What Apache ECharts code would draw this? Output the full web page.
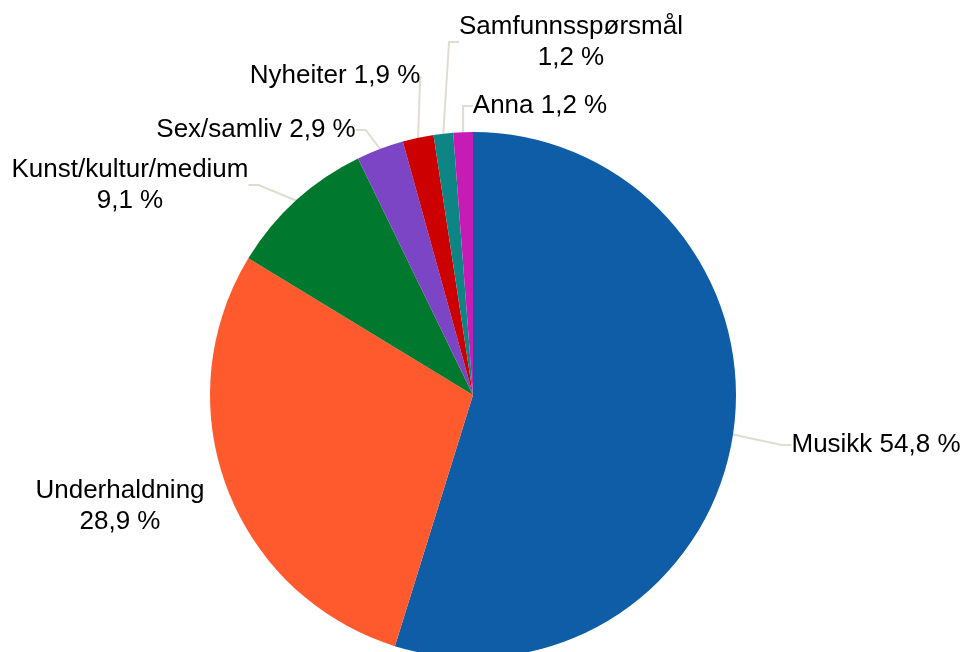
<!DOCTYPE html>
<html>
<head>
<meta charset="utf-8">
<script src="https://cdn.jsdelivr.net/npm/echarts@6/dist/echarts.min.js"></script>
<style>
html,body{margin:0;padding:0;background:#fff;}
#chart{width:965px;height:652px;}
</style>
</head>
<body>
<div id="chart"></div>
<script>
// kategoriar og prosentdel, med klokka frå toppen
var categories = ['Musikk', 'Underhaldning', 'Kunst/kultur/medium', 'Sex/samliv', 'Nyheiter', 'Samfunnsspørsmål', 'Anna'];
var shares = [54.8, 28.9, 9.1, 2.9, 1.9, 1.2, 1.2];
var colors = ['#0e5da6', '#ff5a2e', '#00782d', '#7c45c5', '#cc0000', '#0d8585', '#c71bb5'];
// to-linjers etikettar
var twoLine = [false, true, true, false, false, true, false];
// plassering av etikettane (midtpunkt)
var labelPos = [
	[876, 445], [120, 506], [130, 185], [256, 130], [335, 76], [571, 42], [540, 106]
];
// Underhaldning har inga leidelinje
var showLine = [true, false, true, true, true, true, true];

var dom = document.getElementById('chart');
var myChart = echarts.init(dom, null, {renderer: 'canvas'});

var data = [];
for (var i = 0; i < categories.length; i++) {
	data.push({
		name: categories[i],
		value: shares[i],
		itemStyle: {color: colors[i]},
		labelLine: {show: showLine[i]}
	});
}

var option = {
	animation: false,
	series: [{
		type: 'pie',
		center: [473, 395],
		radius: 263,
		startAngle: 90,
		clockwise: true,
		data: data,
		itemStyle: {borderWidth: 0},
		label: {
			show: true,
			fontFamily: 'Liberation Sans, Arial, sans-serif',
			fontSize: 26,
			color: '#000',
			lineHeight: 31,
			align: 'center',
			overflow: 'none',
			formatter: function (p) {
				var v = p.value.toFixed(1).replace('.', ',') + ' %';
				return twoLine[p.dataIndex] ? p.name + '\n' + v : p.name + ' ' + v;
			}
		},
		labelLine: {
			show: true,
			length: 15,
			length2: 10,
			lineStyle: {color: '#e0dccf', width: 2}
		},
		labelLayout: function (params) {
			var pos = labelPos[params.dataIndex];
			return {
				x: pos[0],
				y: pos[1],
				align: 'center',
				verticalAlign: 'middle'
			};
		}
	}]
};
myChart.setOption(option);
</script>
</body>
</html>
